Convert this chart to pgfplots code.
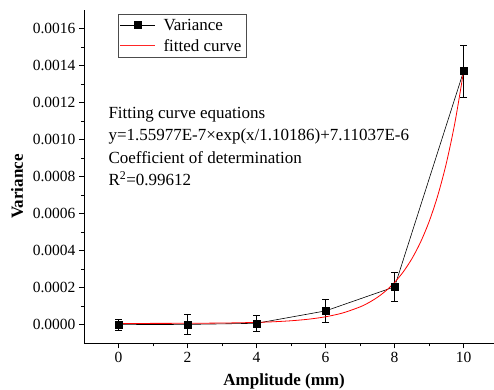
\documentclass[border=0pt]{standalone}
\usepackage{fontspec}
\setmainfont{Liberation Serif}
\usepackage{pgfplots}
\pgfplotsset{compat=1.18}
\begin{document}
\begin{tikzpicture}
\begin{axis}[
  at={(0,0)}, anchor=south west,
  scale only axis, width=410bp, height=333.3bp,
  xmin=-1, xmax=10.88, ymin=-0.0001, ymax=0.0017,
  axis lines*=left, axis line style={-, line width=0.8bp},
  tick align=outside,
  major tick length=5bp, minor tick length=3bp,
  every tick/.style={black, line width=0.7bp},
  xtick={0,2,4,6,8,10}, minor x tick num=1,
  ytick={0,0.0002,0.0004,0.0006,0.0008,0.0010,0.0012,0.0014,0.0016},
  minor y tick num=1,
  scaled y ticks=false,
  /pgf/number format/assume math mode=true,
  yticklabel style={/pgf/number format/.cd, fixed, fixed zerofill, precision=4},
  ticklabel style={font=\fontsize{15.5bp}{18bp}\selectfont},
  xlabel={\textbf{Amplitude (mm)}},
  ylabel={\textbf{Variance}},
  label style={font=\fontsize{17bp}{20bp}\selectfont},
  xlabel style={at={(rel axis cs:0.488,0)}, anchor=center, yshift=-38bp},
  ylabel style={at={(rel axis cs:0,0.47)}, anchor=center, rotate=0, yshift=67bp},
  legend style={at={(rel axis cs:0.082,0.988)}, anchor=north west,
    draw=black!70, line width=0.6bp,
    font=\fontsize{17bp}{20bp}\selectfont,
    inner sep=2bp, row sep=2.5bp, nodes={inner sep=2.5bp},
    /tikz/every odd column/.append style={column sep=5bp}},
  legend cell align=left,
  legend image code/.code={\draw[mark repeat=2,mark phase=2,#1] plot coordinates {(0bp,0bp) (17.5bp,0bp) (35bp,0bp)};},
  clip=false,
]
\addplot[black, line width=0.6bp, mark=square*, mark size=3.5bp,
  mark options={solid, fill=black},
  error bars/.cd, y dir=both, y explicit,
  error bar style={black, line width=0.6bp},
  error mark options={rotate=90, mark size=3.5bp, line width=0.6bp}]
  coordinates {
  (0,0.000001) +- (0,0.000031)
  (2,0.000002) +- (0,0.000054)
  (4,0.000008) +- (0,0.000045)
  (6,0.000075) +- (0,0.000061)
  (8,0.000205) +- (0,0.000080)
  (10,0.00137) +- (0,0.000140)
  };
\addlegendentry{Variance}
\addplot[red, line width=0.8bp, smooth,
  legend image code/.code={\draw[red!85!white, line width=1.1bp] (0bp,0bp) -- (35bp,0bp);}] table {
x y
0 7.266e-6
0.5 7.356e-6
1 7.497e-6
1.5 7.719e-6
2 8.068e-6
2.5 8.619e-6
3 9.484e-6
3.5 1.0848e-5
4 1.2994e-5
4.5 1.6373e-5
5 2.1692e-5
5.5 3.0066e-5
6 4.3247e-5
6.5 6.3998e-5
7 9.6666e-5
7.25 1.1946e-4
7.5 1.4809e-4
7.75 1.8401e-4
8 2.2907e-4
8.25 2.8561e-4
8.5 3.5656e-4
8.75 4.4558e-4
9 5.5729e-4
9.25 6.9747e-4
9.5 8.7335e-4
9.75 1.0940e-3
10 1.3702e-3
};
\addlegendentry{fitted curve}
\node[anchor=base west, inner sep=0, font=\fontsize{17bp}{20bp}\selectfont] at (rel axis cs:0.0593,0.6745) {Fitting curve equations};
\node[anchor=base west, inner sep=0, font=\fontsize{17bp}{20bp}\selectfont] at (rel axis cs:0.0593,0.607) {y=1.55977E-7×exp(x/1.10186)+7.11037E-6};
\node[anchor=base west, inner sep=0, font=\fontsize{17bp}{20bp}\selectfont] at (rel axis cs:0.0593,0.5395) {Coefficient of determination};
\node[anchor=base west, inner sep=0, font=\fontsize{17bp}{20bp}\selectfont] at (rel axis cs:0.0593,0.472) {R\textsuperscript{2}=0.99612};
\end{axis}
\pgfresetboundingbox
\path (-84bp,-46.7bp) rectangle (410bp,343.3bp);
\end{tikzpicture}
\end{document}
